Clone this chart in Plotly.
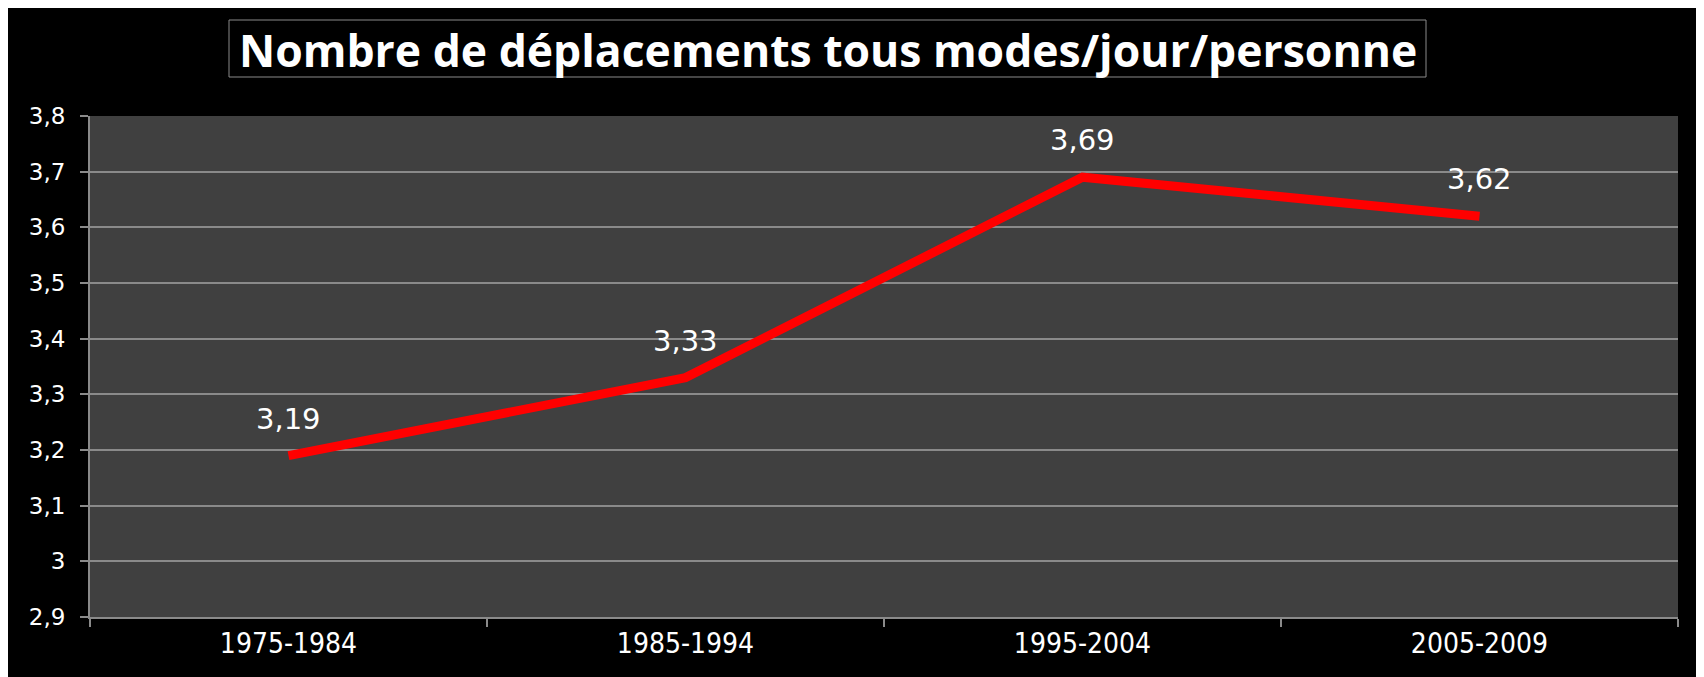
import plotly.graph_objects as go

categories = ["1975-1984", "1985-1994", "1995-2004", "2005-2009"]
values = [3.19, 3.33, 3.69, 3.62]
value_labels = ["3,19", "3,33", "3,69", "3,62"]
y_tickvals = [2.9, 3.0, 3.1, 3.2, 3.3, 3.4, 3.5, 3.6, 3.7, 3.8]
y_ticktext = ["2,9", "3", "3,1", "3,2", "3,3", "3,4", "3,5", "3,6", "3,7", "3,8"]
title_text = "Nombre de déplacements tous modes/jour/personne"

# page body margin of 8px is white; figure drawn from (8, 8)
OFF = 8
W, H = 1704 - OFF, 677 - OFF
ML, MR, MT, MB = 90 - OFF, 26, 116 - OFF, 60
PW = W - ML - MR
PH = H - MT - MB


def px_x(p):
    return (p - OFF - ML) / PW


def px_y(p):
    return (H - MB - (p - OFF)) / PH


fig = go.Figure()
fig.add_trace(go.Scatter(
    x=categories, y=values, mode="lines",
    line=dict(color="#FF0000", width=9),
    hoverinfo="skip", showlegend=False,
))

for c, v, t in zip(categories, values, value_labels):
    fig.add_annotation(
        x=c, y=v, text=t, showarrow=False, yshift=37,
        xanchor="center", yanchor="middle",
        font=dict(family="DejaVu Sans", size=29, color="white"),
    )

# title with frame
fig.add_shape(type="rect", xref="paper", yref="paper",
              x0=px_x(229), x1=px_x(1426), y0=px_y(77), y1=px_y(20),
              line=dict(color="#8a8a8a", width=1), fillcolor="rgba(0,0,0,0)",
              layer="above")
fig.add_annotation(
    xref="paper", yref="paper", x=px_x(828), y=px_y(49),
    text=title_text, showarrow=False, xanchor="center", yanchor="middle",
    font=dict(family="Open Sans", size=44.5, color="white", weight=700),
)

fig.update_layout(
    width=W, height=H,
    margin=dict(l=ML, r=MR, t=MT, b=MB, pad=0),
    paper_bgcolor="black", plot_bgcolor="#404040",
    showlegend=False,
    xaxis=dict(
        type="category", range=[-0.5, 3.5], tickson="boundaries",
        ticks="outside", ticklen=8, tickcolor="#8a8a8a", tickwidth=2,
        showline=True, linecolor="#8a8a8a", linewidth=2,
        showgrid=False, zeroline=False,
        tickfont=dict(family="DejaVu Sans Condensed", size=28, color="white"),
    ),
    yaxis=dict(
        range=[2.9, 3.8], tickvals=y_tickvals, ticktext=y_ticktext,
        ticks="outside", ticklen=8, tickcolor="#8a8a8a", tickwidth=2,
        showline=True, linecolor="#8a8a8a", linewidth=2,
        showgrid=True, gridcolor="#8a8a8a", gridwidth=1.5,
        zeroline=False, ticklabelstandoff=10,
        tickfont=dict(family="DejaVu Sans", size=23, color="white"),
    ),
)

fig.write_html("out.html")
